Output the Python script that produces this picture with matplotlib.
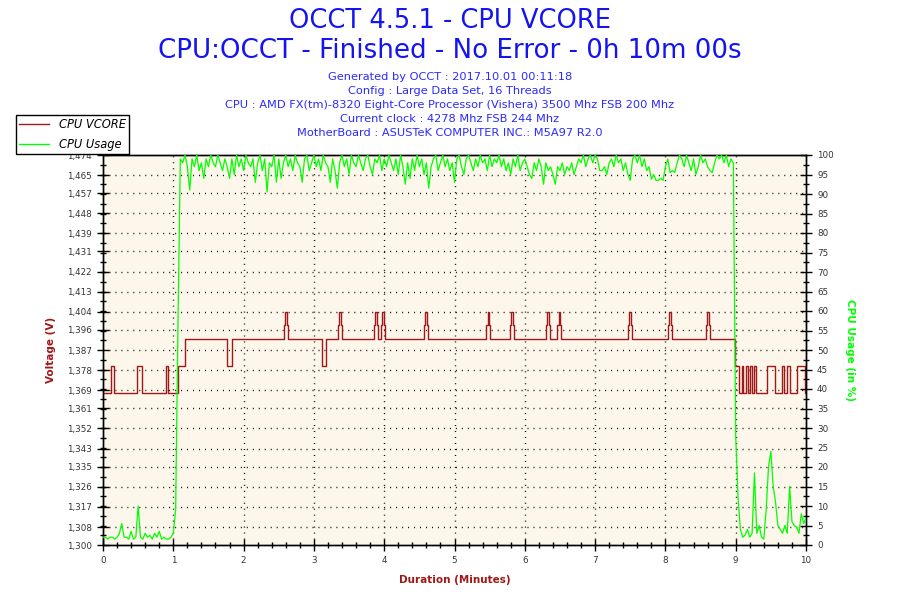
"""OCCT 4.5.1 CPU VCORE / CPU usage log chart."""

import matplotlib

matplotlib.use("Agg")
import matplotlib.pyplot as plt
import numpy as np
from matplotlib.lines import Line2D
from matplotlib.ticker import FixedLocator, MultipleLocator

# ---------------------------------------------------------------- data
title_lines = [
    "OCCT 4.5.1 - CPU VCORE",
    "CPU:OCCT - Finished - No Error - 0h 10m 00s",
]
info_lines = [
    "Generated by OCCT : 2017.10.01 00:11:18",
    "Config : Large Data Set, 16 Threads",
    "CPU : AMD FX(tm)-8320 Eight-Core Processor (Vishera) 3500 Mhz FSB 200 Mhz",
    "Current clock : 4278 Mhz FSB 244 Mhz",
    "MotherBoard : ASUSTeK COMPUTER INC.: M5A97 R2.0",
]

volt_ticks = [1.300, 1.308, 1.317, 1.326, 1.335, 1.343, 1.352, 1.361, 1.369,
              1.378, 1.387, 1.396, 1.404, 1.413, 1.422, 1.431, 1.439, 1.448,
              1.457, 1.465, 1.474]
volt_tick_labels = [f"{v:.3f}".replace(".", ",") for v in volt_ticks]
usage_ticks = list(range(0, 101, 5))
minute_ticks = list(range(0, 11))

# VCORE change points (minutes, volts), drawn as steps
vcore_minutes = [
    0.00, 0.12, 0.16, 0.49, 0.56, 0.90, 0.93, 1.06, 1.17, 1.77, 1.83,
    2.575, 2.59, 2.615, 2.63, 3.12, 3.17,
    3.345, 3.36, 3.385, 3.40,
    3.855, 3.87, 3.895, 3.91,
    3.955, 3.97, 3.995, 4.01,
    4.565, 4.58, 4.605, 4.62,
    5.455, 5.47, 5.495, 5.51,
    5.795, 5.81, 5.835, 5.85,
    6.305, 6.32, 6.345, 6.36,
    6.465, 6.48, 6.505, 6.52,
    7.465, 7.48, 7.505, 7.52,
    8.035, 8.05, 8.075, 8.09,
    8.575, 8.59, 8.615, 8.63,
    8.99, 9.04, 9.09, 9.11, 9.15, 9.17, 9.20, 9.23, 9.26, 9.29,
    9.44, 9.56, 9.66, 9.68, 9.73, 9.77, 9.87, 9.99, 10.00,
]
vcore_volts = [
    1.368, 1.380, 1.368, 1.380, 1.368, 1.380, 1.368, 1.380, 1.392, 1.380, 1.392,
    1.398, 1.404, 1.398, 1.392, 1.380, 1.392,
    1.398, 1.404, 1.398, 1.392,
    1.398, 1.404, 1.398, 1.392,
    1.398, 1.404, 1.398, 1.392,
    1.398, 1.404, 1.398, 1.392,
    1.398, 1.404, 1.398, 1.392,
    1.398, 1.404, 1.398, 1.392,
    1.398, 1.404, 1.398, 1.392,
    1.398, 1.404, 1.398, 1.392,
    1.398, 1.404, 1.398, 1.392,
    1.398, 1.404, 1.398, 1.392,
    1.398, 1.404, 1.398, 1.392,
    1.380, 1.368, 1.380, 1.368, 1.380, 1.368, 1.380, 1.368, 1.380, 1.368,
    1.380, 1.368, 1.380, 1.368, 1.380, 1.368, 1.380, 1.368, 1.368,
]

# CPU usage (%) sampled every 2 seconds, 0 s .. 600 s
usage_seconds = list(range(0, 601, 2))
cpu_usage = [
    # 0 - 64 s (idle, then load starts)
    2, 2, 1.5, 2, 2, 1.5, 2, 3, 5.5, 2, 2, 1.5, 3.5, 1.5, 2, 10, 2, 1.5, 3, 2,
    2.5, 1.5, 3, 2, 3.5, 1.5, 2, 1.5, 1.5, 2, 3, 9, 57,
    # 66 - 538 s (under load)
    99, 98, 100, 97, 91, 99, 97, 100, 96, 98, 94, 99, 97, 100, 98,
    97, 100, 98, 96, 99, 97, 94, 99, 95, 100, 97, 99, 96, 100, 98,
    97, 99, 93, 98, 100, 96, 99, 90.5, 98, 97, 100, 93, 99, 94, 98,
    100, 97, 99, 96, 100, 98, 97, 93, 99, 100, 96, 98, 100, 97, 99,
    96, 100, 98, 97, 93, 99, 96, 91.5, 98, 100, 97, 99, 95, 100, 98,
    97, 100, 98, 96, 99, 100, 97, 95, 99, 98, 100, 96, 99, 97, 100,
    98, 96, 99, 95, 100, 97, 92.5, 98, 94, 99, 96, 100, 97, 99, 95,
    98, 91.5, 97, 99, 100, 96, 98, 100, 97, 99, 96, 98, 93, 99, 100,
    97, 95, 99, 100, 98, 96, 99, 97, 100, 98, 99, 96, 100, 97, 99,
    98, 100, 97, 99, 96, 98, 95, 99, 97, 100, 96, 98, 99, 97, 95,
    94, 98, 96, 99, 97, 92.5, 98, 96, 97, 95, 92.5, 97, 96, 98, 95,
    97, 96, 98, 95, 97, 99, 98, 100, 97, 99, 100, 98, 100, 99, 96,
    96, 97, 95, 98, 99, 97, 100, 98, 99, 96, 98, 95, 93.5, 99, 100,
    98, 100, 97, 99, 96, 97, 93.8, 95, 93.5, 93.5, 94, 93.5, 97, 99, 95.5,
    96, 95.5, 98, 100, 99, 97, 100, 98, 96, 99, 95, 97, 100, 98, 99,
    97, 96, 95.5, 98, 100, 99, 100, 98, 100, 97, 99, 98,
    # 540 - 600 s (idle again)
    28, 12, 4, 2, 2.5, 4, 2, 3, 18.5, 3, 5, 2, 1.5, 9, 20, 24, 15, 11, 5, 4,
    3, 5, 3, 15, 6, 5, 4.5, 3, 8, 5.5, 7,
]

# ---------------------------------------------------------------- style
VCORE_COLOR = "#a01818"
USAGE_COLOR = "#00ff00"
TITLE_COLOR = "#1414f0"
INFO_COLOR = "#2a2aff"
PLOT_BG = "#fdf6ea"
TICK_COLOR = "#333333"
GRID_STYLE = dict(color="black", linestyle=(0, (0.7, 3.6)), linewidth=1.0)

plt.rcParams["font.family"] = ["DejaVu Sans"]


def main():
    fig = plt.figure(figsize=(9, 6), dpi=100, facecolor="white")
    ax = fig.add_axes([103 / 900, 1 - 545 / 600, 703 / 900, 390 / 600])
    ax.set_facecolor(PLOT_BG)

    minutes = np.array(usage_seconds) / 60.0

    ax.plot(vcore_minutes, vcore_volts, drawstyle="steps-post",
            color=VCORE_COLOR, linewidth=1.0, zorder=3)
    ax.set_xlim(0, 10)
    ax.set_ylim(volt_ticks[0], volt_ticks[-1])

    ax2 = ax.twinx()
    ax2.plot(minutes, cpu_usage, color=USAGE_COLOR, linewidth=0.9, zorder=3)
    ax2.set_ylim(0, 100)

    # ticks
    ax.xaxis.set_major_locator(FixedLocator(minute_ticks))
    ax.xaxis.set_minor_locator(MultipleLocator(0.2))
    ax.set_yticks(volt_ticks)
    ax.set_yticklabels(volt_tick_labels)
    ax.yaxis.set_minor_locator(
        FixedLocator(np.linspace(volt_ticks[0], volt_ticks[-1], 41)))
    ax2.set_yticks(usage_ticks)
    ax2.yaxis.set_minor_locator(MultipleLocator(2.5))

    for a in (ax, ax2):
        a.tick_params(which="major", direction="inout", length=8, width=1,
                      color="black", labelsize=6.3, labelcolor=TICK_COLOR,
                      pad=4)
        a.tick_params(which="minor", direction="inout", length=5, width=1,
                      color="black")
        for spine in a.spines.values():
            spine.set_color("black")
            spine.set_linewidth(1.0)

    # grid
    ax.set_axisbelow(True)
    for x in minute_ticks[1:-1]:
        ax.axvline(x, zorder=1, **GRID_STYLE)
    for y in volt_ticks[1:-1]:
        ax.axhline(y, zorder=1, **GRID_STYLE)

    # axis labels
    ax.set_xlabel("Duration (Minutes)", color=VCORE_COLOR, fontsize=7.5,
                  fontweight="bold", labelpad=7)
    ax.set_ylabel("Voltage (V)", color=VCORE_COLOR, fontsize=7.5,
                  fontweight="bold", labelpad=8)
    ax2.set_ylabel("CPU Usage (in %)", color=USAGE_COLOR, fontsize=7.5,
                   fontweight="bold", rotation=270, labelpad=15)

    # titles
    fig.text(0.5, 1 - 21 / 600, title_lines[0], ha="center", va="center",
             fontsize=18.5, color=TITLE_COLOR)
    fig.text(0.5, 1 - 51 / 600, title_lines[1], ha="center", va="center",
             fontsize=18.8, color=TITLE_COLOR)
    for i, line in enumerate(info_lines):
        fig.text(0.5, 1 - (77 + 14 * i) / 600, line, ha="center",
                 va="center", fontsize=8.2, color=INFO_COLOR)

    # legend
    handles = [
        Line2D([], [], color=VCORE_COLOR, linewidth=1.0),
        Line2D([], [], color=USAGE_COLOR, linewidth=1.0),
    ]
    leg = fig.legend(handles, ["CPU VCORE", "CPU Usage"],
                     loc="upper left", bbox_to_anchor=(16 / 900, 1 - 115 / 600),
                     borderaxespad=0, fancybox=False, framealpha=1,
                     edgecolor="black", handlelength=2.6, handletextpad=0.8,
                     borderpad=0.3, labelspacing=0.55,
                     prop=dict(style="italic", size=8.3))
    leg.get_frame().set_linewidth(1.0)

    fig.savefig("out.png", dpi=100)
    plt.close(fig)


if __name__ == "__main__":
    main()
